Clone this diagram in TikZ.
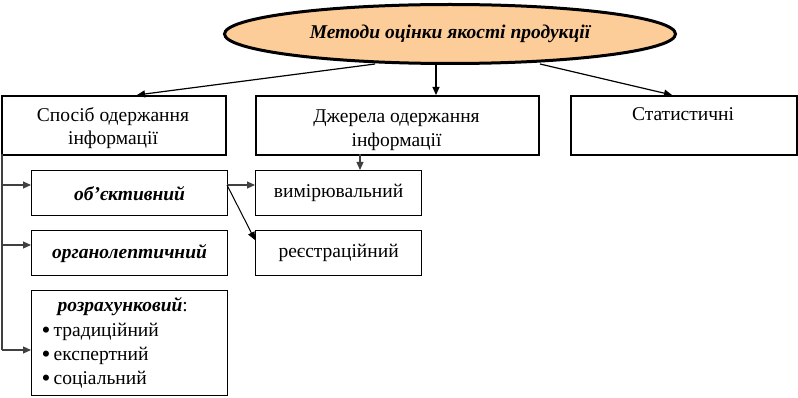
\documentclass[tikz,border=0pt]{standalone}
\usepackage{fontspec}
\setmainfont{Liberation Serif}
\usetikzlibrary{shapes.geometric,arrows.meta}
\definecolor{ellfill}{RGB}{252,204,153}
\definecolor{conn}{RGB}{64,64,64}
\newcommand{\mybul}{\raisebox{-2pt}{\scalebox{1.3}{\textbullet}}}
\tikzset{
  bigbox/.style={draw=black,line width=1.8pt,minimum height=59pt,inner sep=0pt,anchor=north west},
  boxtext/.style={align=center,inner sep=0pt,font=\fontsize{19.5}{23.5}\selectfont},
  smallbox/.style={draw=black,line width=1.2pt,minimum height=45pt,inner sep=2pt,align=center,anchor=north west,font=\fontsize{19.5}{23.5}\selectfont},
  arr/.style={line width=1.2pt,-{Triangle[length=8pt,width=7pt]}},
  garr/.style={draw=conn,line width=1.2pt,-{Triangle[length=8pt,width=7pt]}},
}
\begin{document}
\begin{tikzpicture}[x=1pt,y=-1pt]
\useasboundingbox (0,0) rectangle (798,398);
\node[ellipse,draw=black,line width=3pt,fill=ellfill,minimum width=451pt,minimum height=59pt,inner sep=0pt,font=\fontsize{19.5}{22}\selectfont\bfseries\itshape] (ell) at (450,34) {Методи оцінки якості продукції};
\node[bigbox,minimum width=224pt] (A) at (1,95) {};
\node[boxtext] (At) at (113,128) {Спосіб одержання\\інформації};
\node[bigbox,minimum width=283pt] (B) at (255,95) {};
\node[boxtext] (Bt) at (396.5,130) {Джерела одержання\\інформації};
\node[bigbox,minimum width=226pt] (C) at (570,95) {};
\node[boxtext] (Ct) at (683,114) {Статистичні};
\node[smallbox,minimum width=196pt] (ob) at (31,170) {\bfseries\itshape об’єктивний};
\node[smallbox,minimum width=166pt] (vym) at (255,170) {вимірювальний};
\node[smallbox,minimum width=196pt] (org) at (31,230) {\bfseries\itshape органолептичний};
\node[smallbox,minimum width=166pt] (reg) at (255,230) {реєстраційний};
\node[smallbox,minimum width=196pt,minimum height=105pt,text width=188pt,inner xsep=4pt,align=left,font=\fontsize{19.5}{24.3}\selectfont] (roz) at (31,290) {\hspace*{22pt}{\bfseries\itshape розрахунковий}:\\
\hspace*{6pt}\mybul\,традиційний\\
\hspace*{6pt}\mybul\,експертний\\
\hspace*{6pt}\mybul\,соціальний};
% connectors from ellipse
\coordinate (eL) at (375,64);
\coordinate (aL) at (137,95);
\coordinate (eM) at (436,65);
\coordinate (bM) at (436,95);
\coordinate (eR) at (540,64);
\coordinate (cR) at (672,95);
\draw[arr] (eL) -- (aL);
\draw[arr] (eM) -- (bM);
\draw[arr] (eR) -- (cR);
% left bracket
\coordinate (lt) at (2,154);
\coordinate (lb) at (2,350);
\draw[draw=conn,line width=1.2pt] (lt) -- (lb);
\draw[garr] (2,185) -- (ob.west |- 0,185);
\draw[garr] (2,245) -- (org.west |- 0,245);
\draw[garr] (lb) -- (roz.west |- lb);
% source -> measuring
\coordinate (bs) at (360,154);
\draw[garr] (bs) -- (vym.north -| bs);
\coordinate (obr) at (227,185);
\draw[garr] (obr) -- (vym.west |- obr);
\coordinate (rg) at (255,240);
\draw[arr,line width=1pt] (obr) -- (rg);
\end{tikzpicture}
\end{document}
